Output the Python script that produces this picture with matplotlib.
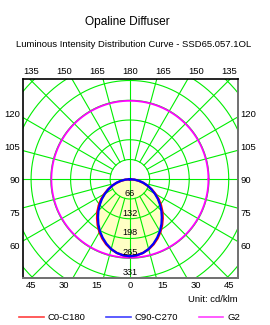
import matplotlib
matplotlib.use("Agg")
import matplotlib.pyplot as plt
import numpy as np

plt.rcParams['font.family'] = ['Liberation Sans', 'DejaVu Sans']

gamma = [0, 5, 10, 15, 20, 25, 30, 35, 40, 45, 50, 55, 60, 65, 70, 75, 80, 85, 90]
c0_c180 = [258, 256, 251, 243, 232, 219, 204, 188, 171, 154, 136, 118, 99, 81, 63, 46, 30, 15, 0]
c90_c270 = [258, 256, 251, 242, 230, 216, 201, 184, 166, 149, 131, 114, 96, 79, 63, 47, 31, 16, 0]
g2_value = 263

ring_values = [66.2, 132.4, 198.6, 264.8, 331.0]
ring_labels = ['66', '132', '198', '265', '331']

x_ticks = [-331.0, -220.7, -110.3, 0, 110.3, 220.7, 331.0]
bottom_labels = ['45', '30', '15', '0', '15', '30', '45']
top_labels = ['135', '150', '165', '180', '165', '150', '135']
y_ticks = [-220.7, -110.3, 0, 110.3, 220.7]
side_labels = ['60', '75', '90', '105', '120']

grid_green = '#00ee00'


def to_xy(angles_deg, values, side=1):
    a = np.radians(angles_deg)
    v = np.asarray(values, dtype=float)
    return side * v * np.sin(a), -v * np.cos(a)


def full_curve(values):
    xr, yr = to_xy(gamma, values, 1)
    xl, yl = to_xy(gamma[::-1], values[::-1], -1)
    return np.concatenate([xl, xr]), np.concatenate([yl, yr])


fig = plt.figure(figsize=(2.70, 3.25), dpi=100)
ax = fig.add_axes([23 / 270, 1 - 278 / 325, 215 / 270, 199 / 325])
ax.set_xlim(-358, 362)
ax.set_ylim(-331, 336)

# yellow fill of the distribution
fx, fy = full_curve(c0_c180)
ax.fill(fx, fy, color='#ffffc4', zorder=1, lw=0)

# grid rings
t = np.linspace(0, 2 * np.pi, 400)
for k in range(1, 9):
    r = k * ring_values[0]
    ax.plot(r * np.cos(t), r * np.sin(t), color=grid_green, lw=0.8, zorder=2)

# radial lines every 15 degrees
for ang in range(0, 360, 15):
    start = 0 if ang % 90 == 0 else ring_values[0]
    a = np.radians(ang)
    ax.plot([start * np.cos(a), 700 * np.cos(a)], [start * np.sin(a), 700 * np.sin(a)],
            color=grid_green, lw=0.8, zorder=2)

# G2 circle
ax.plot(g2_value * np.cos(t), g2_value * np.sin(t), color='#ff00ff', lw=1.3, zorder=3)

# curves
rx, ry = full_curve(c0_c180)
bx, by = full_curve(c90_c270)
ax.plot(rx, ry, color='#ff0000', lw=1.7, zorder=4)
ax.plot(bx, by, color='#0000ff', lw=1.6, zorder=5)

for val, lab in zip(ring_values, ring_labels):
    ax.text(0, -val + 4, lab, ha='center', va='bottom', fontsize=6.6, zorder=6)

ax.set_xticks(x_ticks)
ax.set_xticklabels(bottom_labels)
ax.set_yticks(y_ticks)
ax.set_yticklabels(side_labels)
ax.tick_params(length=0, labelsize=6.8, pad=2, labelright=True, right=True)

secx = ax.secondary_xaxis('top')
secx.set_xticks(x_ticks)
secx.set_xticklabels(top_labels)
secx.tick_params(length=0, labelsize=6.8, pad=2)
secx.spines['top'].set_visible(False)

for s in ['left', 'top']:
    ax.spines[s].set_color('black')
    ax.spines[s].set_linewidth(1.2)
for s in ['right', 'bottom']:
    ax.spines[s].set_color('#707070')
    ax.spines[s].set_linewidth(1.4)

fig.text(0.47, 0.932, 'Opaline Diffuser', ha='center', va='center', fontsize=8.6)
fig.text(0.494, 0.862, 'Luminous Intensity Distribution Curve - SSD65.057.1OL',
         ha='center', va='center', fontsize=6.8)
fig.text(238 / 270, 0.077, 'Unit: cd/klm', ha='right', va='center', fontsize=6.8)

handles = [plt.Line2D([], [], color='#ff4040', lw=1.2),
           plt.Line2D([], [], color='#4040ff', lw=1.2),
           plt.Line2D([], [], color='#ff40ff', lw=1.2)]
fig.legend(handles, ['C0-C180', 'C90-C270', 'G2'], loc='center', bbox_to_anchor=(0.48, 0.022),
           ncol=3, frameon=False, fontsize=6.8, handlelength=2.6, columnspacing=2.2,
           handletextpad=0.4)

fig.savefig('out.png', dpi=100)
